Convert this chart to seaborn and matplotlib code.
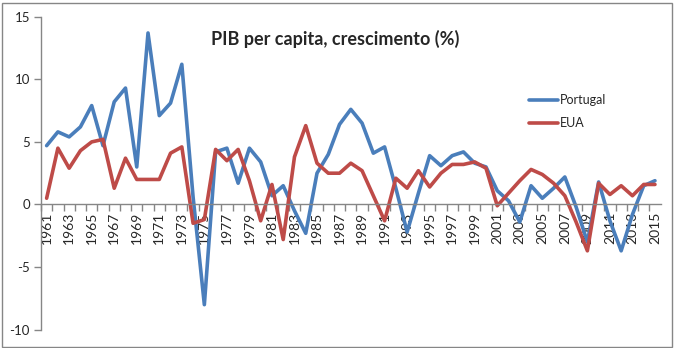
import numpy as np
import pandas as pd
import matplotlib
matplotlib.use("Agg")
import matplotlib.pyplot as plt
import seaborn as sns

anos = list(range(1961, 2016))
portugal = [4.7, 5.8, 5.4, 6.2, 7.9, 4.7, 8.2, 9.3, 3.0, 13.7,
            7.1, 8.1, 11.2, 0.6, -8.0, 4.2, 4.5, 1.7, 4.5, 3.4,
            0.7, 1.5, -0.5, -2.3, 2.5, 4.0, 6.4, 7.6, 6.5, 4.1,
            4.6, 1.3, -2.2, 0.9, 3.9, 3.1, 3.9, 4.2, 3.3, 3.0,
            1.1, 0.3, -1.4, 1.5, 0.5, 1.3, 2.2, -0.2, -3.0, 1.8,
            -1.3, -3.7, -0.8, 1.5, 1.9]
eua = [0.5, 4.5, 2.9, 4.3, 5.0, 5.2, 1.3, 3.7, 2.0, 2.0,
       2.0, 4.1, 4.6, -1.5, -1.2, 4.4, 3.5, 4.4, 1.9, -1.3,
       1.6, -2.8, 3.8, 6.3, 3.3, 2.5, 2.5, 3.3, 2.7, 0.7,
       -1.3, 2.1, 1.3, 2.7, 1.4, 2.5, 3.2, 3.2, 3.4, 2.9,
       -0.1, 0.9, 1.9, 2.8, 2.4, 1.7, 0.7, -1.4, -3.7, 1.7,
       0.8, 1.5, 0.7, 1.6, 1.6]
series = ["Portugal", "EUA"]
cores = ["#4a7ebb", "#be4b48"]
titulo = "PIB per capita, crescimento (%)"
yticks = [-10, -5, 0, 5, 10, 15]

df = pd.DataFrame({
    "ano": anos * 2,
    "valor": portugal + eua,
    "serie": [series[0]] * len(anos) + [series[1]] * len(anos),
})

sns.set_style("white")
plt.rcParams["font.family"] = ["Lato", "DejaVu Sans"]

fig = plt.figure(figsize=(6.74, 3.48), dpi=100)
ax = fig.add_axes([41 / 674, 1 - 329.7 / 348, (660.6 - 41) / 674, (329.7 - 16.7) / 348])

sns.lineplot(data=df, x="ano", y="valor", hue="serie", palette=cores,
             hue_order=series, linewidth=2.6, ax=ax, legend=True)

ax.set_xlim(1960.5, 2015.5)
ax.set_ylim(-10, 15)
ax.set_yticks(yticks)
ax.set_yticklabels([str(v) for v in yticks], fontsize=9.5)
ax.set_xticks(anos[::2])
ax.set_xticklabels([str(a) for a in anos[::2]], fontsize=9.5)
ax.set_xticks([a + 0.5 for a in anos[:-1]] + [1960.5], minor=True)
ax.tick_params(axis="x", which="major", length=0, pad=5, labelrotation=90)
ax.tick_params(axis="x", which="minor", length=5, direction="out",
               color="#868686", bottom=True, width=1)
ax.tick_params(axis="y", which="major", length=5, direction="out",
               color="#868686", left=True, width=1, pad=3)
for lbl in ax.get_xticklabels():
    lbl.set_rotation(90)
    lbl.set_va("top")
    lbl.set_ha("center")
ax.set_xlabel("")
ax.set_ylabel("")

for s in ["top", "right"]:
    ax.spines[s].set_visible(False)
ax.spines["bottom"].set_position(("data", 0))
for s in ["left", "bottom"]:
    ax.spines[s].set_color("#868686")
    ax.spines[s].set_linewidth(1)
ax.grid(False)

leg = ax.legend(loc="upper left", bbox_to_anchor=(518 / 674, 1 - 83 / 348),
                bbox_transform=fig.transFigure, frameon=False, fontsize=9,
                handlelength=2.3, handletextpad=0.15, labelspacing=0.85)
for line in leg.get_lines():
    line.set_linewidth(2.6)

fig.text(335 / 674, 1 - 39 / 348, titulo, ha="center", va="center",
         fontsize=13, fontweight="bold")

fig.patches.append(plt.Rectangle((1.5 / 674, 1.5 / 348), 670 / 674, 344 / 348,
                                 transform=fig.transFigure, fill=False,
                                 edgecolor="#868686", linewidth=1))

fig.savefig("out.png", dpi=100)
